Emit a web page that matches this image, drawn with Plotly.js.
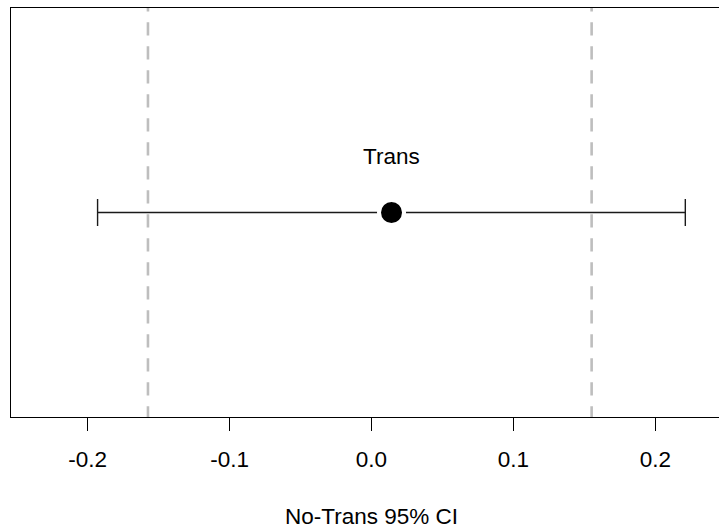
<!DOCTYPE html>
<html>
<head>
<meta charset="utf-8">
<script src="https://cdn.plot.ly/plotly-3.0.1.min.js"></script>
<style>
  html, body { margin: 0; padding: 0; background: #fff; overflow: hidden; }
  #chart { width: 760px; height: 532px; }
</style>
</head>
<body>
<div id="chart"></div>
<script>
// Estimate with its 95% confidence interval, plus the no-trans reference bounds
const labels = ["Trans"];
const estimate = [0.0141];
const ciLower = [-0.193];
const ciUpper = [0.2211];
const refBounds = [-0.1575, 0.1551];
const xTickValues = [-0.2, -0.1, 0.0, 0.1, 0.2];
const xTickLabels = ["-0.2", "-0.1", "0.0", "0.1", "0.2"];
const xTitle = "No-Trans 95% CI";

const FONT = "Liberation Sans, Arial, Helvetica, sans-serif";
const FS = 22.5;

const plotTop = 8, plotBottom = 417;
const plotHeight = plotBottom - plotTop;
const yRange = [0, 2];
const yMid = 1;
const ySpan = yRange[1] - yRange[0];
// start the dashed lines slightly above the frame so the dash phase lines up
const dashLead = 9.7 / plotHeight * ySpan;

const traces = [];

refBounds.forEach(v => {
  traces.push({
    type: "scatter",
    mode: "lines",
    x: [v, v],
    y: [yRange[1] + dashLead, yRange[0] - 0.05],
    line: { color: "#bebebe", width: 2.6, dash: "13.3px,10.7px" },
    hoverinfo: "skip",
    showlegend: false
  });
});

traces.push({
  type: "scatter",
  mode: "markers",
  x: estimate,
  y: labels.map(() => yMid),
  error_x: {
    type: "data",
    symmetric: false,
    array: estimate.map((e, i) => ciUpper[i] - e),
    arrayminus: estimate.map((e, i) => e - ciLower[i]),
    color: "#1a1a1a",
    thickness: 1.4,
    width: 13.5
  },
  marker: { color: "#000", size: 25, line: { color: "#fff", width: 4 } },
  hoverinfo: "skip",
  showlegend: false
});

const annotations = labels.map((t, i) => ({
  x: estimate[i], y: yMid, xref: "x", yref: "y",
  text: t, showarrow: false, yshift: 56,
  font: { family: FONT, size: FS, color: "#000" }
}));

const layout = {
  width: 760, height: 532,
  margin: { l: 11, r: 28, t: plotTop, b: 532 - plotBottom, pad: 0 },
  paper_bgcolor: "#fff", plot_bgcolor: "#fff",
  font: { family: FONT, size: FS, color: "#000" },
  xaxis: {
    range: [-0.254, 0.254],
    tickvals: xTickValues, ticktext: xTickLabels,
    ticks: "outside", ticklen: 13, tickwidth: 1.3, tickcolor: "#000",
    ticklabelstandoff: 9,
    showline: true, mirror: true, linecolor: "#000", linewidth: 1.3,
    showgrid: false, zeroline: false,
    tickfont: { family: FONT, size: FS, color: "#000" },
    title: { text: xTitle, font: { family: FONT, size: FS, color: "#000" }, standoff: 37 },
    automargin: false
  },
  yaxis: {
    range: yRange,
    showline: true, mirror: true, linecolor: "#000", linewidth: 1.3,
    showticklabels: false, ticks: "", showgrid: false, zeroline: false,
    automargin: false
  },
  annotations: annotations,
  showlegend: false,
  hovermode: false
};

Plotly.newPlot("chart", traces, layout, { staticPlot: true, displayModeBar: false });
</script>
</body>
</html>
